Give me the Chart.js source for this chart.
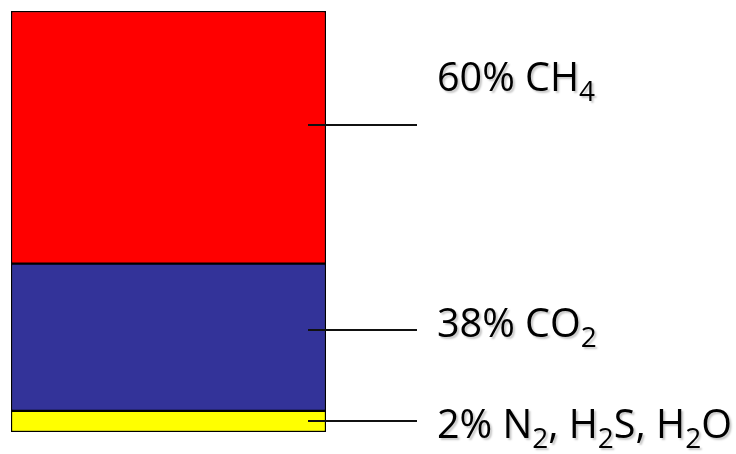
<!DOCTYPE html>
<html>
<head>
<meta charset="utf-8">
<script src="https://cdn.jsdelivr.net/npm/chart.js@4"></script>
<style>
html,body{margin:0;padding:0;background:#fff;}
canvas{display:block;}
</style>
</head>
<body>
<canvas id="c" width="736" height="454"></canvas>
<script>
// ---- data (stacked bottom to top) ----
const categories = ['Biogas'];
const seriesNames = ['N2, H2S, H2O', 'CO2', 'CH4'];
const seriesValues = [5, 35, 60];              // drawn share of the column
const seriesLabels = ['2% N_2, H_2S, H_2O', '38% CO_2', '60% CH_4'];
const seriesColors = ['#FFFF00', '#333399', '#FF0000'];

const datasets = seriesNames.map((n, i) => ({
  label: n,
  data: [seriesValues[i]],
  backgroundColor: seriesColors[i],
  borderColor: '#000',
  borderWidth: 1.5,
  borderSkipped: false,
  barPercentage: 1,
  categoryPercentage: 1
}));

const leaderPlugin = {
  id: 'leaders',
  afterDatasetsDraw(chart, args, opts) {
    const ctx = chart.ctx;
    chart.data.datasets.forEach((ds, i) => {
      const el = chart.getDatasetMeta(i).data[0];
      const top = Math.min(el.y, el.base), bot = Math.max(el.y, el.base);
      const ly = Math.round(top + (bot - top) * opts.lineFrac[i]);
      ctx.save();
      ctx.strokeStyle = '#111';
      ctx.lineWidth = 2;
      ctx.beginPath();
      ctx.moveTo(el.x + el.width / 2 - 18, ly);
      ctx.lineTo(opts.lineEnd, ly);
      ctx.stroke();
      // text with subscripts
      ctx.shadowColor = 'rgba(0,0,0,0.22)';
      ctx.shadowOffsetX = 2;
      ctx.shadowOffsetY = 2;
      ctx.shadowBlur = 2;
      ctx.fillStyle = '#000';
      ctx.textBaseline = 'alphabetic';
      ctx.textAlign = 'left';
      let x = opts.textX;
      const y = ly + opts.baselineOffset[i];
      const parts = seriesLabels[i].split(/(_\d)/);
      parts.forEach(p => {
        if (!p) return;
        if (p[0] === '_') {
          ctx.font = opts.subFont;
          ctx.fillText(p.slice(1), x, y + opts.subShift);
          x += ctx.measureText(p.slice(1)).width;
        } else {
          ctx.font = opts.font;
          ctx.fillText(p, x, y);
          x += ctx.measureText(p).width;
        }
      });
      ctx.restore();
    });
  }
};

new Chart(document.getElementById('c'), {
  type: 'bar',
  data: { labels: categories, datasets },
  options: {
    responsive: false,
    animation: false,
    layout: { padding: { left: 11, top: 11, right: 410, bottom: 22 } },
    scales: {
      x: { stacked: true, display: false },
      y: { stacked: true, display: false, min: 0, max: 100 }
    },
    plugins: {
      legend: { display: false },
      tooltip: { enabled: false },
      leaders: {
        lineFrac: [0.5, 0.45, 0.45],
        lineEnd: 417,
        textX: 437,
        baselineOffset: [17, 7, -34],
        font: '39.5px "Open Sans"',
        subFont: '28px "Open Sans"',
        subShift: 10
      }
    }
  },
  plugins: [leaderPlugin]
});
</script>
</body>
</html>
